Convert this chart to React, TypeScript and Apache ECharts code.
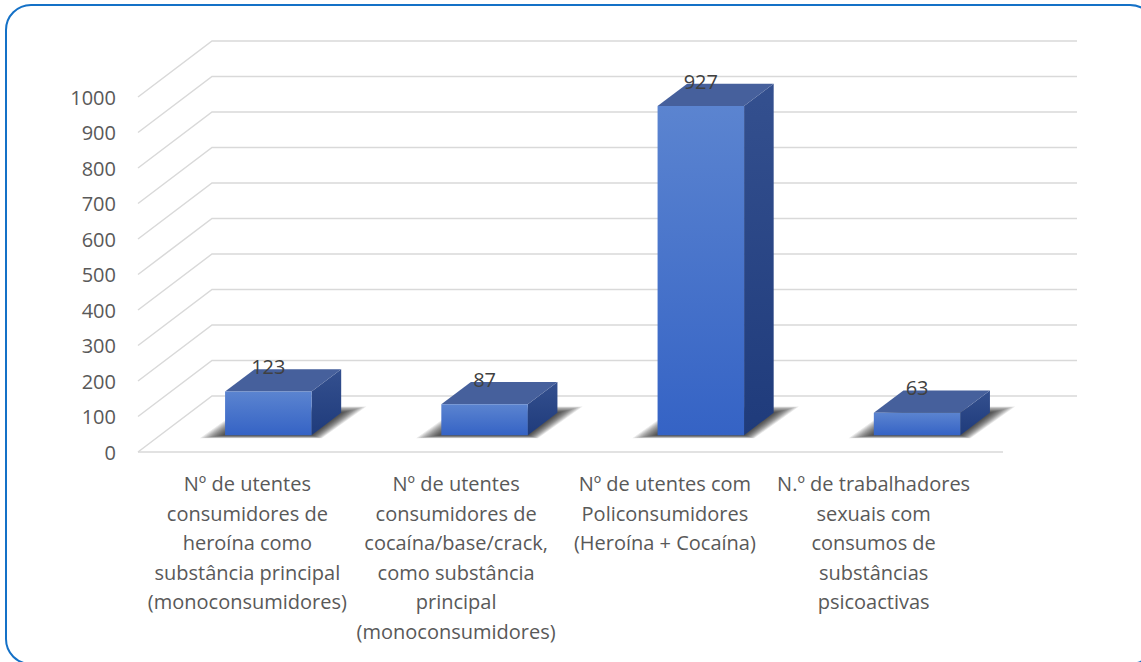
import React, { useEffect, useRef } from "react";
import * as echarts from "echarts";

const categories = [
  "Nº de utentes\nconsumidores de\nheroína como\nsubstância principal\n(monoconsumidores)",
  "Nº de utentes\nconsumidores de\ncocaína/base/crack,\ncomo substância\nprincipal\n(monoconsumidores)",
  "Nº de utentes com\nPoliconsumidores\n(Heroína + Cocaína)",
  "N.º de trabalhadores\nsexuais com\nconsumos de\nsubstâncias\npsicoactivas",
];
const values = [123, 87, 927, 63];
const yTicks = [0, 100, 200, 300, 400, 500, 600, 700, 800, 900, 1000];

// depth vector of the 3D floor (px)
const DX = 74;
const DY = -56;
const BAR_FRONT = 0.3;
const BAR_BACK = 0.7;
const FONT = "'Open Sans', 'Noto Sans', sans-serif";
const SHADOW_LAYERS = 12;

export default function App() {
  const ref = useRef<HTMLDivElement>(null);
  useEffect(() => {
    if (!ref.current) return;
    const chart = echarts.init(ref.current, null, { renderer: "svg" });
    const n = categories.length;
    const option: any = {
      animation: false,
      backgroundColor: "#ffffff",
      graphic: [
        {
          type: "rect",
          shape: { x: 6, y: 5, width: 1149, height: 659, r: 25 },
          style: { fill: "none", stroke: "#1471c7", lineWidth: 2 },
          z: 0,
        },
      ],
      grid: [
        { left: 138, right: 138, top: 97, bottom: 210 },
        { left: 143, width: 835, top: 97, bottom: 210 },
      ],
      xAxis: [
        {
          type: "value",
          gridIndex: 0,
          min: 0,
          max: n,
          show: false,
        },
        {
          type: "category",
          gridIndex: 1,
          data: categories,
          axisLine: { show: false },
          axisTick: { show: false },
          axisLabel: {
            interval: 0,
            margin: 17,
            color: "#595959",
            fontSize: 20,
            fontFamily: FONT,
            lineHeight: 29.5,
            align: "center",
          },
        },
      ],
      yAxis: [
        {
          type: "value",
          gridIndex: 0,
          min: 0,
          max: 1000,
          interval: 100,
          axisLine: { show: false },
          axisTick: { show: false },
          splitLine: { show: false },
          axisLabel: {
            margin: 22,
            color: "#595959",
            fontSize: 20,
            fontFamily: FONT,
            formatter: (v: number) => String(v),
          },
        },
        {
          type: "value",
          gridIndex: 1,
          min: 0,
          max: 1000,
          show: false,
        },
      ],
      series: [
        {
          type: "custom",
          xAxisIndex: 0,
          yAxisIndex: 0,
          clip: false,
          z: 1,
          silent: true,
          data: yTicks.map((v) => [0, v]),
          renderItem: (params: any, api: any) => {
            const v = api.value(1);
            const a = api.coord([0, v]);
            const b = api.coord([n, v]);
            const children: any[] = [
              {
                type: "polyline",
                shape: {
                  points: [
                    [a[0], a[1]],
                    [a[0] + DX, a[1] + DY],
                    [b[0] + DX, b[1] + DY],
                  ],
                },
                style: { stroke: "#d9d9d9", lineWidth: 1.5, fill: "none" },
              },
            ];
            if (v === 0) {
              children.push({
                type: "line",
                shape: { x1: a[0], y1: a[1], x2: b[0], y2: b[1] },
                style: { stroke: "#d9d9d9", lineWidth: 1.5 },
              });
            }
            return { type: "group", children };
          },
        },
        {
          type: "custom",
          xAxisIndex: 0,
          yAxisIndex: 0,
          clip: false,
          z: 2,
          data: values.map((v, i) => [i, v]),
          renderItem: (params: any, api: any) => {
            const i = api.value(0);
            const v = api.value(1);
            const fx = DX * BAR_FRONT;
            const fy = DY * BAR_FRONT;
            const bx = DX * BAR_BACK;
            const by = DY * BAR_BACK;
            const bl = api.coord([i + BAR_FRONT, 0]);
            const br = api.coord([i + BAR_BACK, 0]);
            const tl = api.coord([i + BAR_FRONT, v]);
            // front face corners
            const x0 = bl[0] + fx;
            const x1 = br[0] + fx;
            const yb = bl[1] + fy;
            const yt = tl[1] + fy;
            const ddx = bx - fx;
            const ddy = by - fy;
            const shadows: any[] = [];
            for (let k = SHADOW_LAYERS; k >= 1; k--) {
              const e = k * 2.1;
              shadows.push({
                type: "polygon",
                shape: {
                  points: [
                    [x0 - e, yb + e * 0.12],
                    [x1 + e * 0.4, yb + e * 0.12],
                    [x1 + ddx + e, yb + ddy - e * 0.25],
                    [x0 + ddx - e * 0.4, yb + ddy - e * 0.25],
                  ],
                },
                style: { fill: "rgba(0,0,0,0.085)" },
              });
            }
            return {
              type: "group",
              children: [
                ...shadows,
                {
                  type: "polygon",
                  shape: {
                    points: [
                      [x1, yt],
                      [x1 + ddx, yt + ddy],
                      [x1 + ddx, yb + ddy],
                      [x1, yb],
                    ],
                  },
                  style: {
                    fill: new echarts.graphic.LinearGradient(0, 0, 0, 1, [
                      { offset: 0, color: "#34508f" },
                      { offset: 1, color: "#1f3b7b" },
                    ]),
                  },
                },
                {
                  type: "polygon",
                  shape: {
                    points: [
                      [x0, yt],
                      [x1, yt],
                      [x1 + ddx, yt + ddy],
                      [x0 + ddx, yt + ddy],
                    ],
                  },
                  style: { fill: "#46609c" },
                },
                {
                  type: "rect",
                  shape: { x: x0, y: yt, width: x1 - x0, height: yb - yt },
                  style: {
                    fill: new echarts.graphic.LinearGradient(0, 0, 0, 1, [
                      { offset: 0, color: "#5b84d0" },
                      { offset: 1, color: "#3563c5" },
                    ]),
                  },
                },
                {
                  type: "text",
                  style: {
                    x: (x0 + x1) / 2,
                    y: yt - 25,
                    text: String(v),
                    fill: "#404040",
                    fontSize: 20,
                    fontFamily: FONT,
                    align: "center",
                    verticalAlign: "middle",
                  },
                },
              ],
            };
          },
        },
      ],
    };
    chart.setOption(option);
    return () => chart.dispose();
  }, []);
  return (
    <div
      ref={ref}
      style={{ position: "fixed", left: 0, top: 0, width: 1141, height: 662 }}
    />
  );
}
